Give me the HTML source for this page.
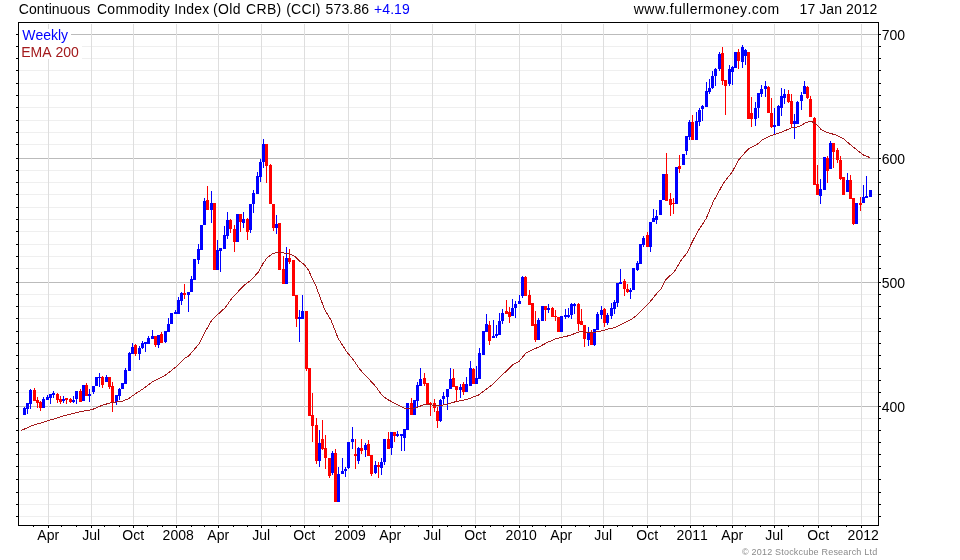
<!DOCTYPE html>
<html><head><meta charset="utf-8"><title>Continuous Commodity Index</title>
<style>
html,body{margin:0;padding:0;background:#fff;}
body{width:960px;height:560px;overflow:hidden;position:relative;font-family:"Liberation Sans",sans-serif;}
svg{position:absolute;left:0;top:0;}
text{font-family:"Liberation Sans",sans-serif;font-kerning:none;}
</style></head><body>
<svg width="960" height="560" viewBox="0 0 960 560">
<rect x="0" y="0" width="960" height="560" fill="#ffffff"/>

<g shape-rendering="crispEdges">
<rect x="19" y="516" width="859" height="1" fill="#efefef"/>
<rect x="19" y="504" width="859" height="1" fill="#efefef"/>
<rect x="19" y="492" width="859" height="1" fill="#efefef"/>
<rect x="19" y="479" width="859" height="1" fill="#efefef"/>
<rect x="19" y="466" width="859" height="1" fill="#efefef"/>
<rect x="19" y="454" width="859" height="1" fill="#efefef"/>
<rect x="19" y="442" width="859" height="1" fill="#efefef"/>
<rect x="19" y="430" width="859" height="1" fill="#efefef"/>
<rect x="19" y="418" width="859" height="1" fill="#efefef"/>
<rect x="19" y="406" width="859" height="1" fill="#bbbbbb"/>
<rect x="19" y="392" width="859" height="1" fill="#efefef"/>
<rect x="19" y="380" width="859" height="1" fill="#efefef"/>
<rect x="19" y="368" width="859" height="1" fill="#efefef"/>
<rect x="19" y="355" width="859" height="1" fill="#efefef"/>
<rect x="19" y="343" width="859" height="1" fill="#efefef"/>
<rect x="19" y="331" width="859" height="1" fill="#efefef"/>
<rect x="19" y="318" width="859" height="1" fill="#efefef"/>
<rect x="19" y="306" width="859" height="1" fill="#efefef"/>
<rect x="19" y="294" width="859" height="1" fill="#efefef"/>
<rect x="19" y="282" width="859" height="1" fill="#bbbbbb"/>
<rect x="19" y="268" width="859" height="1" fill="#efefef"/>
<rect x="19" y="256" width="859" height="1" fill="#efefef"/>
<rect x="19" y="244" width="859" height="1" fill="#efefef"/>
<rect x="19" y="231" width="859" height="1" fill="#efefef"/>
<rect x="19" y="219" width="859" height="1" fill="#efefef"/>
<rect x="19" y="207" width="859" height="1" fill="#efefef"/>
<rect x="19" y="194" width="859" height="1" fill="#efefef"/>
<rect x="19" y="182" width="859" height="1" fill="#efefef"/>
<rect x="19" y="170" width="859" height="1" fill="#efefef"/>
<rect x="19" y="158" width="859" height="1" fill="#bbbbbb"/>
<rect x="19" y="144" width="859" height="1" fill="#efefef"/>
<rect x="19" y="132" width="859" height="1" fill="#efefef"/>
<rect x="19" y="120" width="859" height="1" fill="#efefef"/>
<rect x="19" y="107" width="859" height="1" fill="#efefef"/>
<rect x="19" y="95" width="859" height="1" fill="#efefef"/>
<rect x="19" y="83" width="859" height="1" fill="#efefef"/>
<rect x="19" y="70" width="859" height="1" fill="#efefef"/>
<rect x="19" y="58" width="859" height="1" fill="#efefef"/>
<rect x="19" y="46" width="859" height="1" fill="#efefef"/>
<rect x="19" y="34" width="859" height="1" fill="#bbbbbb"/>
<rect x="48" y="24" width="1" height="500" fill="#dedede"/>
<rect x="91" y="24" width="1" height="500" fill="#dedede"/>
<rect x="133" y="24" width="1" height="500" fill="#dedede"/>
<rect x="176" y="24" width="1" height="500" fill="#dedede"/>
<rect x="218" y="24" width="1" height="500" fill="#dedede"/>
<rect x="261" y="24" width="1" height="500" fill="#dedede"/>
<rect x="304" y="24" width="1" height="500" fill="#dedede"/>
<rect x="348" y="24" width="1" height="500" fill="#dedede"/>
<rect x="390" y="24" width="1" height="500" fill="#dedede"/>
<rect x="432" y="24" width="1" height="500" fill="#dedede"/>
<rect x="475" y="24" width="1" height="500" fill="#dedede"/>
<rect x="519" y="24" width="1" height="500" fill="#dedede"/>
<rect x="561" y="24" width="1" height="500" fill="#dedede"/>
<rect x="603" y="24" width="1" height="500" fill="#dedede"/>
<rect x="647" y="24" width="1" height="500" fill="#dedede"/>
<rect x="690" y="24" width="1" height="500" fill="#dedede"/>
<rect x="732" y="24" width="1" height="500" fill="#dedede"/>
<rect x="774" y="24" width="1" height="500" fill="#dedede"/>
<rect x="818" y="24" width="1" height="500" fill="#dedede"/>
<rect x="861" y="24" width="1" height="500" fill="#dedede"/>
<rect x="19" y="29" width="52" height="15" fill="#fff"/>
<rect x="19" y="44" width="63" height="15" fill="#fff"/>
</g>
<g shape-rendering="crispEdges">
<rect x="24" y="407" width="1" height="8" fill="#0000ff"/>
<rect x="23" y="408" width="3" height="7" fill="#0000ff"/>
<rect x="27" y="403" width="1" height="11" fill="#0000ff"/>
<rect x="26" y="403" width="3" height="6" fill="#0000ff"/>
<rect x="30" y="389" width="1" height="20" fill="#0000ff"/>
<rect x="29" y="390" width="3" height="14" fill="#0000ff"/>
<rect x="34" y="388" width="1" height="13" fill="#ff0000"/>
<rect x="33" y="390" width="3" height="11" fill="#ff0000"/>
<rect x="37" y="397" width="1" height="11" fill="#ff0000"/>
<rect x="36" y="400" width="3" height="3" fill="#ff0000"/>
<rect x="40" y="401" width="1" height="10" fill="#ff0000"/>
<rect x="39" y="402" width="3" height="6" fill="#ff0000"/>
<rect x="43" y="397" width="1" height="11" fill="#0000ff"/>
<rect x="42" y="399" width="3" height="9" fill="#0000ff"/>
<rect x="47" y="395" width="1" height="5" fill="#0000ff"/>
<rect x="46" y="397" width="3" height="3" fill="#0000ff"/>
<rect x="50" y="394" width="1" height="10" fill="#0000ff"/>
<rect x="49" y="394" width="3" height="4" fill="#0000ff"/>
<rect x="53" y="391" width="1" height="7" fill="#0000ff"/>
<rect x="52" y="393" width="3" height="2" fill="#0000ff"/>
<rect x="57" y="393" width="1" height="10" fill="#ff0000"/>
<rect x="56" y="394" width="3" height="6" fill="#ff0000"/>
<rect x="60" y="396" width="1" height="8" fill="#ff0000"/>
<rect x="59" y="399" width="3" height="3" fill="#ff0000"/>
<rect x="63" y="396" width="1" height="7" fill="#0000ff"/>
<rect x="62" y="399" width="3" height="2" fill="#0000ff"/>
<rect x="66" y="398" width="1" height="6" fill="#ff0000"/>
<rect x="65" y="398" width="3" height="2" fill="#ff0000"/>
<rect x="70" y="398" width="1" height="5" fill="#ff0000"/>
<rect x="69" y="399" width="3" height="3" fill="#ff0000"/>
<rect x="73" y="396" width="1" height="7" fill="#0000ff"/>
<rect x="72" y="400" width="3" height="2" fill="#0000ff"/>
<rect x="76" y="391" width="1" height="13" fill="#0000ff"/>
<rect x="75" y="391" width="3" height="8" fill="#0000ff"/>
<rect x="80" y="389" width="1" height="13" fill="#ff0000"/>
<rect x="79" y="391" width="3" height="11" fill="#ff0000"/>
<rect x="82" y="385" width="3" height="16" fill="#0000ff"/>
<rect x="86" y="383" width="1" height="13" fill="#ff0000"/>
<rect x="85" y="385" width="3" height="11" fill="#ff0000"/>
<rect x="89" y="389" width="1" height="13" fill="#0000ff"/>
<rect x="88" y="394" width="3" height="2" fill="#0000ff"/>
<rect x="93" y="386" width="1" height="8" fill="#0000ff"/>
<rect x="92" y="386" width="3" height="6" fill="#0000ff"/>
<rect x="95" y="377" width="3" height="9" fill="#0000ff"/>
<rect x="99" y="373" width="1" height="14" fill="#0000ff"/>
<rect x="98" y="377" width="3" height="1" fill="#0000ff"/>
<rect x="102" y="376" width="1" height="12" fill="#ff0000"/>
<rect x="101" y="377" width="3" height="8" fill="#ff0000"/>
<rect x="106" y="375" width="1" height="7" fill="#0000ff"/>
<rect x="105" y="377" width="3" height="5" fill="#0000ff"/>
<rect x="109" y="377" width="1" height="12" fill="#ff0000"/>
<rect x="108" y="377" width="3" height="10" fill="#ff0000"/>
<rect x="112" y="382" width="1" height="30" fill="#ff0000"/>
<rect x="111" y="386" width="3" height="16" fill="#ff0000"/>
<rect x="116" y="395" width="1" height="10" fill="#0000ff"/>
<rect x="115" y="395" width="3" height="7" fill="#0000ff"/>
<rect x="119" y="388" width="1" height="12" fill="#0000ff"/>
<rect x="118" y="389" width="3" height="7" fill="#0000ff"/>
<rect x="121" y="383" width="3" height="6" fill="#0000ff"/>
<rect x="125" y="368" width="1" height="16" fill="#0000ff"/>
<rect x="124" y="370" width="3" height="14" fill="#0000ff"/>
<rect x="129" y="352" width="1" height="19" fill="#0000ff"/>
<rect x="128" y="353" width="3" height="18" fill="#0000ff"/>
<rect x="132" y="343" width="1" height="11" fill="#0000ff"/>
<rect x="131" y="347" width="3" height="7" fill="#0000ff"/>
<rect x="135" y="344" width="1" height="12" fill="#ff0000"/>
<rect x="134" y="345" width="3" height="9" fill="#ff0000"/>
<rect x="139" y="346" width="1" height="14" fill="#0000ff"/>
<rect x="138" y="348" width="3" height="6" fill="#0000ff"/>
<rect x="142" y="341" width="1" height="8" fill="#0000ff"/>
<rect x="141" y="343" width="3" height="5" fill="#0000ff"/>
<rect x="145" y="342" width="1" height="10" fill="#0000ff"/>
<rect x="144" y="342" width="3" height="2" fill="#0000ff"/>
<rect x="148" y="336" width="1" height="8" fill="#0000ff"/>
<rect x="147" y="338" width="3" height="6" fill="#0000ff"/>
<rect x="152" y="330" width="1" height="9" fill="#0000ff"/>
<rect x="151" y="336" width="3" height="3" fill="#0000ff"/>
<rect x="155" y="336" width="1" height="11" fill="#ff0000"/>
<rect x="154" y="336" width="3" height="9" fill="#ff0000"/>
<rect x="158" y="335" width="1" height="13" fill="#0000ff"/>
<rect x="157" y="335" width="3" height="10" fill="#0000ff"/>
<rect x="161" y="332" width="1" height="11" fill="#ff0000"/>
<rect x="160" y="334" width="3" height="9" fill="#ff0000"/>
<rect x="165" y="331" width="1" height="12" fill="#0000ff"/>
<rect x="164" y="331" width="3" height="11" fill="#0000ff"/>
<rect x="168" y="318" width="1" height="14" fill="#0000ff"/>
<rect x="167" y="324" width="3" height="8" fill="#0000ff"/>
<rect x="170" y="313" width="3" height="11" fill="#0000ff"/>
<rect x="175" y="310" width="1" height="4" fill="#0000ff"/>
<rect x="174" y="312" width="3" height="2" fill="#0000ff"/>
<rect x="178" y="297" width="1" height="17" fill="#0000ff"/>
<rect x="177" y="300" width="3" height="14" fill="#0000ff"/>
<rect x="181" y="292" width="1" height="13" fill="#0000ff"/>
<rect x="180" y="293" width="3" height="8" fill="#0000ff"/>
<rect x="184" y="284" width="1" height="15" fill="#ff0000"/>
<rect x="183" y="293" width="3" height="2" fill="#ff0000"/>
<rect x="188" y="292" width="1" height="20" fill="#0000ff"/>
<rect x="187" y="292" width="3" height="3" fill="#0000ff"/>
<rect x="191" y="276" width="1" height="16" fill="#0000ff"/>
<rect x="190" y="279" width="3" height="13" fill="#0000ff"/>
<rect x="193" y="259" width="3" height="21" fill="#0000ff"/>
<rect x="198" y="244" width="1" height="20" fill="#0000ff"/>
<rect x="197" y="249" width="3" height="11" fill="#0000ff"/>
<rect x="200" y="225" width="3" height="25" fill="#0000ff"/>
<rect x="204" y="198" width="1" height="27" fill="#0000ff"/>
<rect x="203" y="201" width="3" height="24" fill="#0000ff"/>
<rect x="207" y="186" width="1" height="24" fill="#ff0000"/>
<rect x="206" y="200" width="3" height="10" fill="#ff0000"/>
<rect x="211" y="191" width="1" height="32" fill="#0000ff"/>
<rect x="210" y="203" width="3" height="7" fill="#0000ff"/>
<rect x="213" y="203" width="3" height="67" fill="#ff0000"/>
<rect x="217" y="240" width="1" height="30" fill="#0000ff"/>
<rect x="216" y="250" width="3" height="20" fill="#0000ff"/>
<rect x="220" y="248" width="1" height="24" fill="#0000ff"/>
<rect x="219" y="248" width="3" height="3" fill="#0000ff"/>
<rect x="224" y="226" width="1" height="23" fill="#0000ff"/>
<rect x="223" y="235" width="3" height="14" fill="#0000ff"/>
<rect x="227" y="212" width="1" height="27" fill="#0000ff"/>
<rect x="226" y="220" width="3" height="16" fill="#0000ff"/>
<rect x="230" y="219" width="1" height="14" fill="#ff0000"/>
<rect x="229" y="220" width="3" height="9" fill="#ff0000"/>
<rect x="234" y="225" width="1" height="27" fill="#ff0000"/>
<rect x="233" y="229" width="3" height="13" fill="#ff0000"/>
<rect x="236" y="214" width="3" height="28" fill="#0000ff"/>
<rect x="240" y="214" width="1" height="18" fill="#ff0000"/>
<rect x="239" y="214" width="3" height="8" fill="#ff0000"/>
<rect x="243" y="212" width="1" height="16" fill="#0000ff"/>
<rect x="242" y="219" width="3" height="4" fill="#0000ff"/>
<rect x="247" y="218" width="1" height="22" fill="#ff0000"/>
<rect x="246" y="219" width="3" height="13" fill="#ff0000"/>
<rect x="250" y="204" width="1" height="29" fill="#0000ff"/>
<rect x="249" y="204" width="3" height="26" fill="#0000ff"/>
<rect x="253" y="190" width="1" height="23" fill="#0000ff"/>
<rect x="252" y="193" width="3" height="11" fill="#0000ff"/>
<rect x="257" y="172" width="1" height="22" fill="#0000ff"/>
<rect x="256" y="176" width="3" height="18" fill="#0000ff"/>
<rect x="260" y="159" width="1" height="23" fill="#0000ff"/>
<rect x="259" y="162" width="3" height="15" fill="#0000ff"/>
<rect x="263" y="139" width="1" height="29" fill="#0000ff"/>
<rect x="262" y="144" width="3" height="18" fill="#0000ff"/>
<rect x="266" y="144" width="1" height="39" fill="#ff0000"/>
<rect x="265" y="144" width="3" height="22" fill="#ff0000"/>
<rect x="270" y="164" width="1" height="40" fill="#ff0000"/>
<rect x="269" y="165" width="3" height="39" fill="#ff0000"/>
<rect x="273" y="204" width="1" height="27" fill="#ff0000"/>
<rect x="272" y="204" width="3" height="24" fill="#ff0000"/>
<rect x="276" y="215" width="1" height="19" fill="#0000ff"/>
<rect x="275" y="224" width="3" height="4" fill="#0000ff"/>
<rect x="278" y="223" width="3" height="47" fill="#ff0000"/>
<rect x="283" y="256" width="1" height="28" fill="#ff0000"/>
<rect x="282" y="269" width="3" height="15" fill="#ff0000"/>
<rect x="286" y="247" width="1" height="37" fill="#0000ff"/>
<rect x="285" y="258" width="3" height="26" fill="#0000ff"/>
<rect x="289" y="249" width="1" height="15" fill="#ff0000"/>
<rect x="288" y="258" width="3" height="4" fill="#ff0000"/>
<rect x="292" y="260" width="3" height="36" fill="#ff0000"/>
<rect x="296" y="295" width="1" height="32" fill="#ff0000"/>
<rect x="295" y="295" width="3" height="24" fill="#ff0000"/>
<rect x="299" y="310" width="1" height="32" fill="#0000ff"/>
<rect x="298" y="317" width="3" height="2" fill="#0000ff"/>
<rect x="302" y="295" width="1" height="24" fill="#0000ff"/>
<rect x="301" y="311" width="3" height="8" fill="#0000ff"/>
<rect x="306" y="311" width="1" height="60" fill="#ff0000"/>
<rect x="305" y="311" width="3" height="58" fill="#ff0000"/>
<rect x="308" y="368" width="3" height="48" fill="#ff0000"/>
<rect x="312" y="393" width="1" height="49" fill="#ff0000"/>
<rect x="311" y="415" width="3" height="11" fill="#ff0000"/>
<rect x="316" y="418" width="1" height="46" fill="#ff0000"/>
<rect x="315" y="425" width="3" height="36" fill="#ff0000"/>
<rect x="319" y="430" width="1" height="37" fill="#0000ff"/>
<rect x="318" y="443" width="3" height="18" fill="#0000ff"/>
<rect x="322" y="420" width="1" height="30" fill="#ff0000"/>
<rect x="321" y="439" width="3" height="10" fill="#ff0000"/>
<rect x="325" y="435" width="1" height="34" fill="#ff0000"/>
<rect x="324" y="448" width="3" height="10" fill="#ff0000"/>
<rect x="329" y="458" width="1" height="20" fill="#ff0000"/>
<rect x="328" y="458" width="3" height="18" fill="#ff0000"/>
<rect x="332" y="451" width="1" height="24" fill="#0000ff"/>
<rect x="331" y="453" width="3" height="20" fill="#0000ff"/>
<rect x="335" y="449" width="1" height="53" fill="#ff0000"/>
<rect x="334" y="453" width="3" height="49" fill="#ff0000"/>
<rect x="338" y="467" width="1" height="35" fill="#0000ff"/>
<rect x="337" y="474" width="3" height="28" fill="#0000ff"/>
<rect x="342" y="458" width="1" height="16" fill="#0000ff"/>
<rect x="341" y="471" width="3" height="3" fill="#0000ff"/>
<rect x="345" y="467" width="1" height="10" fill="#0000ff"/>
<rect x="344" y="469" width="3" height="2" fill="#0000ff"/>
<rect x="348" y="442" width="1" height="27" fill="#0000ff"/>
<rect x="347" y="442" width="3" height="26" fill="#0000ff"/>
<rect x="352" y="427" width="1" height="22" fill="#0000ff"/>
<rect x="351" y="439" width="3" height="3" fill="#0000ff"/>
<rect x="355" y="439" width="1" height="30" fill="#ff0000"/>
<rect x="354" y="454" width="3" height="2" fill="#ff0000"/>
<rect x="358" y="447" width="1" height="17" fill="#0000ff"/>
<rect x="357" y="448" width="3" height="13" fill="#0000ff"/>
<rect x="361" y="439" width="1" height="15" fill="#ff0000"/>
<rect x="360" y="448" width="3" height="3" fill="#ff0000"/>
<rect x="365" y="443" width="1" height="14" fill="#0000ff"/>
<rect x="364" y="445" width="3" height="5" fill="#0000ff"/>
<rect x="368" y="440" width="1" height="16" fill="#ff0000"/>
<rect x="367" y="444" width="3" height="12" fill="#ff0000"/>
<rect x="371" y="455" width="1" height="21" fill="#ff0000"/>
<rect x="370" y="455" width="3" height="19" fill="#ff0000"/>
<rect x="375" y="461" width="1" height="13" fill="#0000ff"/>
<rect x="374" y="465" width="3" height="8" fill="#0000ff"/>
<rect x="378" y="462" width="1" height="16" fill="#ff0000"/>
<rect x="377" y="465" width="3" height="2" fill="#ff0000"/>
<rect x="381" y="458" width="1" height="17" fill="#0000ff"/>
<rect x="380" y="462" width="3" height="6" fill="#0000ff"/>
<rect x="384" y="439" width="1" height="26" fill="#0000ff"/>
<rect x="383" y="439" width="3" height="23" fill="#0000ff"/>
<rect x="388" y="432" width="1" height="17" fill="#ff0000"/>
<rect x="387" y="439" width="3" height="10" fill="#ff0000"/>
<rect x="391" y="432" width="1" height="23" fill="#0000ff"/>
<rect x="390" y="432" width="3" height="16" fill="#0000ff"/>
<rect x="394" y="432" width="1" height="10" fill="#ff0000"/>
<rect x="393" y="432" width="3" height="4" fill="#ff0000"/>
<rect x="397" y="431" width="1" height="6" fill="#0000ff"/>
<rect x="396" y="434" width="3" height="2" fill="#0000ff"/>
<rect x="401" y="434" width="1" height="17" fill="#0000ff"/>
<rect x="400" y="434" width="3" height="2" fill="#0000ff"/>
<rect x="404" y="429" width="1" height="22" fill="#0000ff"/>
<rect x="403" y="429" width="3" height="9" fill="#0000ff"/>
<rect x="406" y="403" width="3" height="27" fill="#0000ff"/>
<rect x="411" y="398" width="1" height="17" fill="#ff0000"/>
<rect x="410" y="403" width="3" height="12" fill="#ff0000"/>
<rect x="413" y="400" width="3" height="15" fill="#0000ff"/>
<rect x="417" y="382" width="1" height="25" fill="#0000ff"/>
<rect x="416" y="385" width="3" height="16" fill="#0000ff"/>
<rect x="420" y="368" width="1" height="18" fill="#0000ff"/>
<rect x="419" y="379" width="3" height="7" fill="#0000ff"/>
<rect x="424" y="373" width="1" height="13" fill="#ff0000"/>
<rect x="423" y="378" width="3" height="6" fill="#ff0000"/>
<rect x="426" y="383" width="3" height="21" fill="#ff0000"/>
<rect x="430" y="402" width="1" height="14" fill="#ff0000"/>
<rect x="429" y="403" width="3" height="2" fill="#ff0000"/>
<rect x="434" y="399" width="1" height="13" fill="#ff0000"/>
<rect x="433" y="403" width="3" height="5" fill="#ff0000"/>
<rect x="437" y="407" width="1" height="21" fill="#ff0000"/>
<rect x="436" y="411" width="3" height="10" fill="#ff0000"/>
<rect x="440" y="399" width="1" height="23" fill="#0000ff"/>
<rect x="439" y="400" width="3" height="21" fill="#0000ff"/>
<rect x="443" y="392" width="1" height="12" fill="#0000ff"/>
<rect x="442" y="396" width="3" height="3" fill="#0000ff"/>
<rect x="447" y="389" width="1" height="21" fill="#0000ff"/>
<rect x="446" y="389" width="3" height="8" fill="#0000ff"/>
<rect x="450" y="368" width="1" height="21" fill="#0000ff"/>
<rect x="449" y="379" width="3" height="10" fill="#0000ff"/>
<rect x="453" y="369" width="1" height="18" fill="#ff0000"/>
<rect x="452" y="378" width="3" height="9" fill="#ff0000"/>
<rect x="456" y="386" width="1" height="15" fill="#ff0000"/>
<rect x="455" y="386" width="3" height="4" fill="#ff0000"/>
<rect x="460" y="384" width="1" height="14" fill="#0000ff"/>
<rect x="459" y="387" width="3" height="3" fill="#0000ff"/>
<rect x="463" y="382" width="1" height="13" fill="#ff0000"/>
<rect x="462" y="384" width="3" height="8" fill="#ff0000"/>
<rect x="466" y="377" width="1" height="15" fill="#0000ff"/>
<rect x="465" y="384" width="3" height="8" fill="#0000ff"/>
<rect x="470" y="361" width="1" height="25" fill="#0000ff"/>
<rect x="469" y="368" width="3" height="18" fill="#0000ff"/>
<rect x="473" y="368" width="1" height="16" fill="#ff0000"/>
<rect x="472" y="369" width="3" height="15" fill="#ff0000"/>
<rect x="476" y="366" width="1" height="18" fill="#0000ff"/>
<rect x="475" y="378" width="3" height="6" fill="#0000ff"/>
<rect x="479" y="348" width="1" height="31" fill="#0000ff"/>
<rect x="478" y="353" width="3" height="26" fill="#0000ff"/>
<rect x="482" y="331" width="3" height="24" fill="#0000ff"/>
<rect x="486" y="314" width="1" height="18" fill="#0000ff"/>
<rect x="485" y="324" width="3" height="8" fill="#0000ff"/>
<rect x="489" y="321" width="1" height="24" fill="#ff0000"/>
<rect x="488" y="325" width="3" height="16" fill="#ff0000"/>
<rect x="493" y="320" width="1" height="18" fill="#0000ff"/>
<rect x="492" y="336" width="3" height="2" fill="#0000ff"/>
<rect x="496" y="325" width="1" height="13" fill="#0000ff"/>
<rect x="495" y="334" width="3" height="2" fill="#0000ff"/>
<rect x="499" y="313" width="1" height="22" fill="#0000ff"/>
<rect x="498" y="321" width="3" height="14" fill="#0000ff"/>
<rect x="502" y="309" width="1" height="15" fill="#0000ff"/>
<rect x="501" y="313" width="3" height="8" fill="#0000ff"/>
<rect x="506" y="300" width="1" height="14" fill="#ff0000"/>
<rect x="505" y="311" width="3" height="3" fill="#ff0000"/>
<rect x="509" y="307" width="1" height="16" fill="#ff0000"/>
<rect x="508" y="312" width="3" height="5" fill="#ff0000"/>
<rect x="512" y="299" width="1" height="17" fill="#0000ff"/>
<rect x="511" y="308" width="3" height="8" fill="#0000ff"/>
<rect x="515" y="301" width="1" height="17" fill="#0000ff"/>
<rect x="514" y="304" width="3" height="4" fill="#0000ff"/>
<rect x="519" y="295" width="1" height="9" fill="#0000ff"/>
<rect x="518" y="301" width="3" height="3" fill="#0000ff"/>
<rect x="522" y="276" width="1" height="22" fill="#0000ff"/>
<rect x="521" y="277" width="3" height="19" fill="#0000ff"/>
<rect x="525" y="276" width="1" height="20" fill="#ff0000"/>
<rect x="524" y="277" width="3" height="19" fill="#ff0000"/>
<rect x="529" y="290" width="1" height="15" fill="#ff0000"/>
<rect x="528" y="295" width="3" height="10" fill="#ff0000"/>
<rect x="531" y="303" width="3" height="23" fill="#ff0000"/>
<rect x="535" y="311" width="1" height="31" fill="#ff0000"/>
<rect x="534" y="324" width="3" height="16" fill="#ff0000"/>
<rect x="538" y="318" width="1" height="22" fill="#0000ff"/>
<rect x="537" y="320" width="3" height="20" fill="#0000ff"/>
<rect x="541" y="306" width="3" height="15" fill="#0000ff"/>
<rect x="545" y="306" width="1" height="15" fill="#ff0000"/>
<rect x="544" y="306" width="3" height="4" fill="#ff0000"/>
<rect x="548" y="304" width="1" height="9" fill="#0000ff"/>
<rect x="547" y="308" width="3" height="2" fill="#0000ff"/>
<rect x="552" y="307" width="1" height="10" fill="#ff0000"/>
<rect x="551" y="308" width="3" height="9" fill="#ff0000"/>
<rect x="555" y="310" width="1" height="11" fill="#ff0000"/>
<rect x="554" y="316" width="3" height="1" fill="#ff0000"/>
<rect x="557" y="317" width="3" height="15" fill="#ff0000"/>
<rect x="560" y="316" width="3" height="16" fill="#0000ff"/>
<rect x="565" y="309" width="1" height="10" fill="#0000ff"/>
<rect x="564" y="315" width="3" height="2" fill="#0000ff"/>
<rect x="568" y="308" width="1" height="10" fill="#0000ff"/>
<rect x="567" y="315" width="3" height="2" fill="#0000ff"/>
<rect x="571" y="303" width="1" height="16" fill="#0000ff"/>
<rect x="570" y="304" width="3" height="11" fill="#0000ff"/>
<rect x="574" y="303" width="1" height="11" fill="#0000ff"/>
<rect x="573" y="304" width="3" height="2" fill="#0000ff"/>
<rect x="578" y="303" width="1" height="28" fill="#ff0000"/>
<rect x="577" y="304" width="3" height="20" fill="#ff0000"/>
<rect x="581" y="309" width="1" height="16" fill="#ff0000"/>
<rect x="580" y="321" width="3" height="4" fill="#ff0000"/>
<rect x="584" y="325" width="1" height="22" fill="#ff0000"/>
<rect x="583" y="325" width="3" height="14" fill="#ff0000"/>
<rect x="588" y="327" width="1" height="19" fill="#0000ff"/>
<rect x="587" y="332" width="3" height="8" fill="#0000ff"/>
<rect x="591" y="330" width="1" height="15" fill="#ff0000"/>
<rect x="590" y="332" width="3" height="13" fill="#ff0000"/>
<rect x="594" y="329" width="1" height="17" fill="#0000ff"/>
<rect x="593" y="329" width="3" height="16" fill="#0000ff"/>
<rect x="597" y="312" width="1" height="18" fill="#0000ff"/>
<rect x="596" y="314" width="3" height="16" fill="#0000ff"/>
<rect x="601" y="306" width="1" height="13" fill="#0000ff"/>
<rect x="600" y="310" width="3" height="5" fill="#0000ff"/>
<rect x="604" y="308" width="1" height="19" fill="#ff0000"/>
<rect x="603" y="309" width="3" height="14" fill="#ff0000"/>
<rect x="607" y="313" width="1" height="12" fill="#0000ff"/>
<rect x="606" y="315" width="3" height="8" fill="#0000ff"/>
<rect x="611" y="303" width="1" height="16" fill="#0000ff"/>
<rect x="610" y="308" width="3" height="8" fill="#0000ff"/>
<rect x="614" y="300" width="1" height="14" fill="#0000ff"/>
<rect x="613" y="302" width="3" height="7" fill="#0000ff"/>
<rect x="617" y="283" width="1" height="24" fill="#0000ff"/>
<rect x="616" y="283" width="3" height="20" fill="#0000ff"/>
<rect x="620" y="269" width="1" height="15" fill="#0000ff"/>
<rect x="619" y="282" width="3" height="2" fill="#0000ff"/>
<rect x="624" y="279" width="1" height="17" fill="#ff0000"/>
<rect x="623" y="281" width="3" height="8" fill="#ff0000"/>
<rect x="627" y="284" width="1" height="9" fill="#ff0000"/>
<rect x="626" y="289" width="3" height="3" fill="#ff0000"/>
<rect x="630" y="288" width="1" height="11" fill="#0000ff"/>
<rect x="629" y="290" width="3" height="2" fill="#0000ff"/>
<rect x="632" y="268" width="3" height="22" fill="#0000ff"/>
<rect x="637" y="261" width="1" height="10" fill="#0000ff"/>
<rect x="636" y="263" width="3" height="7" fill="#0000ff"/>
<rect x="639" y="244" width="3" height="20" fill="#0000ff"/>
<rect x="643" y="236" width="1" height="11" fill="#0000ff"/>
<rect x="642" y="238" width="3" height="7" fill="#0000ff"/>
<rect x="647" y="232" width="1" height="15" fill="#ff0000"/>
<rect x="646" y="235" width="3" height="12" fill="#ff0000"/>
<rect x="650" y="222" width="1" height="30" fill="#0000ff"/>
<rect x="649" y="222" width="3" height="25" fill="#0000ff"/>
<rect x="653" y="209" width="1" height="13" fill="#0000ff"/>
<rect x="652" y="218" width="3" height="4" fill="#0000ff"/>
<rect x="656" y="210" width="1" height="14" fill="#0000ff"/>
<rect x="655" y="216" width="3" height="4" fill="#0000ff"/>
<rect x="659" y="200" width="3" height="15" fill="#0000ff"/>
<rect x="662" y="174" width="3" height="26" fill="#0000ff"/>
<rect x="666" y="153" width="1" height="48" fill="#ff0000"/>
<rect x="665" y="174" width="3" height="27" fill="#ff0000"/>
<rect x="670" y="193" width="1" height="23" fill="#ff0000"/>
<rect x="669" y="199" width="3" height="6" fill="#ff0000"/>
<rect x="673" y="198" width="1" height="16" fill="#ff0000"/>
<rect x="672" y="203" width="3" height="1" fill="#ff0000"/>
<rect x="675" y="167" width="3" height="37" fill="#0000ff"/>
<rect x="679" y="155" width="1" height="18" fill="#ff0000"/>
<rect x="678" y="166" width="3" height="3" fill="#ff0000"/>
<rect x="682" y="154" width="3" height="11" fill="#0000ff"/>
<rect x="686" y="136" width="1" height="19" fill="#0000ff"/>
<rect x="685" y="136" width="3" height="15" fill="#0000ff"/>
<rect x="689" y="120" width="1" height="20" fill="#0000ff"/>
<rect x="688" y="122" width="3" height="15" fill="#0000ff"/>
<rect x="692" y="115" width="1" height="25" fill="#ff0000"/>
<rect x="691" y="122" width="3" height="18" fill="#ff0000"/>
<rect x="696" y="112" width="1" height="28" fill="#0000ff"/>
<rect x="695" y="121" width="3" height="19" fill="#0000ff"/>
<rect x="699" y="108" width="1" height="18" fill="#0000ff"/>
<rect x="698" y="110" width="3" height="12" fill="#0000ff"/>
<rect x="702" y="105" width="1" height="16" fill="#0000ff"/>
<rect x="701" y="106" width="3" height="3" fill="#0000ff"/>
<rect x="706" y="82" width="1" height="25" fill="#0000ff"/>
<rect x="705" y="91" width="3" height="16" fill="#0000ff"/>
<rect x="709" y="79" width="1" height="15" fill="#0000ff"/>
<rect x="708" y="88" width="3" height="4" fill="#0000ff"/>
<rect x="712" y="71" width="1" height="18" fill="#0000ff"/>
<rect x="711" y="76" width="3" height="12" fill="#0000ff"/>
<rect x="715" y="68" width="1" height="18" fill="#0000ff"/>
<rect x="714" y="69" width="3" height="7" fill="#0000ff"/>
<rect x="719" y="52" width="1" height="19" fill="#0000ff"/>
<rect x="718" y="54" width="3" height="15" fill="#0000ff"/>
<rect x="722" y="47" width="1" height="38" fill="#ff0000"/>
<rect x="721" y="53" width="3" height="28" fill="#ff0000"/>
<rect x="725" y="80" width="1" height="35" fill="#ff0000"/>
<rect x="724" y="80" width="3" height="6" fill="#ff0000"/>
<rect x="729" y="65" width="1" height="21" fill="#0000ff"/>
<rect x="728" y="69" width="3" height="15" fill="#0000ff"/>
<rect x="732" y="66" width="1" height="19" fill="#0000ff"/>
<rect x="731" y="67" width="3" height="5" fill="#0000ff"/>
<rect x="734" y="52" width="3" height="16" fill="#0000ff"/>
<rect x="738" y="49" width="1" height="20" fill="#ff0000"/>
<rect x="737" y="52" width="3" height="9" fill="#ff0000"/>
<rect x="742" y="45" width="1" height="23" fill="#0000ff"/>
<rect x="741" y="47" width="3" height="15" fill="#0000ff"/>
<rect x="745" y="49" width="1" height="16" fill="#0000ff"/>
<rect x="744" y="50" width="3" height="6" fill="#0000ff"/>
<rect x="747" y="52" width="3" height="67" fill="#ff0000"/>
<rect x="751" y="97" width="1" height="30" fill="#ff0000"/>
<rect x="750" y="113" width="3" height="6" fill="#ff0000"/>
<rect x="755" y="102" width="1" height="24" fill="#0000ff"/>
<rect x="754" y="108" width="3" height="11" fill="#0000ff"/>
<rect x="758" y="93" width="1" height="25" fill="#0000ff"/>
<rect x="757" y="93" width="3" height="15" fill="#0000ff"/>
<rect x="761" y="85" width="1" height="12" fill="#0000ff"/>
<rect x="760" y="89" width="3" height="5" fill="#0000ff"/>
<rect x="765" y="81" width="1" height="16" fill="#0000ff"/>
<rect x="764" y="86" width="3" height="3" fill="#0000ff"/>
<rect x="768" y="86" width="1" height="27" fill="#ff0000"/>
<rect x="767" y="87" width="3" height="26" fill="#ff0000"/>
<rect x="771" y="98" width="1" height="30" fill="#ff0000"/>
<rect x="770" y="113" width="3" height="14" fill="#ff0000"/>
<rect x="774" y="108" width="1" height="26" fill="#0000ff"/>
<rect x="773" y="125" width="3" height="2" fill="#0000ff"/>
<rect x="778" y="105" width="1" height="21" fill="#0000ff"/>
<rect x="777" y="106" width="3" height="20" fill="#0000ff"/>
<rect x="781" y="88" width="1" height="28" fill="#0000ff"/>
<rect x="780" y="96" width="3" height="12" fill="#0000ff"/>
<rect x="784" y="89" width="1" height="15" fill="#0000ff"/>
<rect x="783" y="94" width="3" height="4" fill="#0000ff"/>
<rect x="788" y="90" width="1" height="13" fill="#ff0000"/>
<rect x="787" y="94" width="3" height="8" fill="#ff0000"/>
<rect x="791" y="94" width="1" height="33" fill="#ff0000"/>
<rect x="790" y="101" width="3" height="23" fill="#ff0000"/>
<rect x="794" y="114" width="1" height="25" fill="#0000ff"/>
<rect x="793" y="121" width="3" height="3" fill="#0000ff"/>
<rect x="797" y="101" width="1" height="23" fill="#0000ff"/>
<rect x="796" y="102" width="3" height="22" fill="#0000ff"/>
<rect x="801" y="92" width="1" height="18" fill="#0000ff"/>
<rect x="800" y="95" width="3" height="6" fill="#0000ff"/>
<rect x="804" y="81" width="1" height="13" fill="#0000ff"/>
<rect x="803" y="86" width="3" height="8" fill="#0000ff"/>
<rect x="807" y="86" width="1" height="13" fill="#ff0000"/>
<rect x="806" y="87" width="3" height="11" fill="#ff0000"/>
<rect x="810" y="96" width="1" height="21" fill="#ff0000"/>
<rect x="809" y="99" width="3" height="18" fill="#ff0000"/>
<rect x="814" y="117" width="1" height="68" fill="#ff0000"/>
<rect x="813" y="118" width="3" height="67" fill="#ff0000"/>
<rect x="817" y="165" width="1" height="30" fill="#ff0000"/>
<rect x="816" y="184" width="3" height="11" fill="#ff0000"/>
<rect x="820" y="179" width="1" height="25" fill="#0000ff"/>
<rect x="819" y="189" width="3" height="7" fill="#0000ff"/>
<rect x="823" y="157" width="3" height="33" fill="#0000ff"/>
<rect x="827" y="156" width="1" height="27" fill="#ff0000"/>
<rect x="826" y="158" width="3" height="13" fill="#ff0000"/>
<rect x="830" y="141" width="1" height="28" fill="#0000ff"/>
<rect x="829" y="143" width="3" height="26" fill="#0000ff"/>
<rect x="833" y="143" width="1" height="25" fill="#ff0000"/>
<rect x="832" y="143" width="3" height="9" fill="#ff0000"/>
<rect x="837" y="148" width="1" height="15" fill="#ff0000"/>
<rect x="836" y="150" width="3" height="10" fill="#ff0000"/>
<rect x="840" y="156" width="1" height="24" fill="#ff0000"/>
<rect x="839" y="160" width="3" height="19" fill="#ff0000"/>
<rect x="842" y="177" width="3" height="18" fill="#ff0000"/>
<rect x="847" y="173" width="1" height="19" fill="#0000ff"/>
<rect x="846" y="180" width="3" height="12" fill="#0000ff"/>
<rect x="850" y="175" width="1" height="24" fill="#ff0000"/>
<rect x="849" y="180" width="3" height="19" fill="#ff0000"/>
<rect x="853" y="198" width="1" height="27" fill="#ff0000"/>
<rect x="852" y="198" width="3" height="26" fill="#ff0000"/>
<rect x="855" y="203" width="3" height="21" fill="#0000ff"/>
<rect x="860" y="197" width="1" height="14" fill="#ff0000"/>
<rect x="859" y="203" width="3" height="2" fill="#ff0000"/>
<rect x="863" y="185" width="1" height="18" fill="#0000ff"/>
<rect x="862" y="197" width="3" height="6" fill="#0000ff"/>
<rect x="866" y="176" width="1" height="22" fill="#0000ff"/>
<rect x="865" y="196" width="3" height="2" fill="#0000ff"/>
<rect x="869" y="190" width="3" height="7" fill="#0000ff"/>
</g>
<polyline points="21.0,430.6 32.2,425.6 48.5,420.6 66.0,415.2 81.0,411.6 91.6,409.8 103.5,404.8 112.2,402.5 122.2,401.2 128.5,398.8 135.8,393.5 142.2,389.4 152.2,381.9 164.8,375.6 176.6,366.5 184.8,358.1 188.5,356.2 199.1,343.8 204.8,332.5 211.6,320.6 218.5,313.8 225.4,307.5 231.0,299.4 243.5,285.8 251.0,280.2 258.5,271.9 262.9,263.8 267.2,257.5 273.5,253.2 279.8,252.4 288.5,253.8 294.8,256.2 299.8,261.2 304.1,264.4 308.5,270.0 313.5,281.2 316.0,286.2 324.8,310.0 331.0,320.0 338.5,339.4 339.8,341.0 347.2,352.5 353.5,360.0 359.8,369.4 369.8,380.0 376.0,386.9 382.2,395.6 388.5,400.0 396.0,404.0 404.8,408.5 414.8,408.1 424.8,404.4 437.2,405.4 446.0,404.8 456.0,401.5 467.2,399.4 478.5,395.0 492.2,384.8 504.8,372.5 513.5,364.2 519.1,361.5 522.2,357.5 526.0,353.1 532.2,349.8 539.1,346.9 547.2,342.5 554.8,339.2 558.0,338.2 564.8,336.6 568.5,335.8 575.0,333.5 581.0,331.4 587.2,332.5 596.0,332.0 603.5,330.4 609.8,328.5 614.8,327.8 623.5,323.1 632.2,318.8 637.2,315.0 646.0,306.2 651.0,300.6 656.0,294.4 661.0,288.8 665.4,280.0 674.1,271.9 681.0,260.6 687.2,252.5 693.5,239.4 699.1,229.4 706.0,218.8 713.5,201.2 723.5,183.1 732.2,171.9 738.5,160.2 746.0,151.4 748.5,148.8 753.5,146.2 757.2,144.4 762.2,140.0 771.0,135.6 781.0,132.5 792.2,127.5 798.5,126.9 806.0,122.5 811.0,121.2 816.0,123.8 821.0,129.4 827.2,132.5 836.0,135.0 843.5,138.8 852.2,146.2 858.5,151.2 863.5,155.0 869.8,157.5" fill="none" stroke="#a31a1c" stroke-width="1" shape-rendering="crispEdges"/>
<g shape-rendering="crispEdges" fill="#000">
<rect x="18" y="22" width="861" height="1"/>
<rect x="18" y="525" width="861" height="1"/>
<rect x="18" y="22" width="1" height="504"/>
<rect x="878" y="22" width="1" height="504"/>
<rect x="16" y="516" width="2" height="1"/>
<rect x="879" y="516" width="2" height="1"/>
<rect x="16" y="504" width="2" height="1"/>
<rect x="879" y="504" width="2" height="1"/>
<rect x="16" y="492" width="2" height="1"/>
<rect x="879" y="492" width="2" height="1"/>
<rect x="16" y="479" width="2" height="1"/>
<rect x="879" y="479" width="2" height="1"/>
<rect x="16" y="466" width="2" height="1"/>
<rect x="879" y="466" width="2" height="1"/>
<rect x="16" y="454" width="2" height="1"/>
<rect x="879" y="454" width="2" height="1"/>
<rect x="16" y="442" width="2" height="1"/>
<rect x="879" y="442" width="2" height="1"/>
<rect x="16" y="430" width="2" height="1"/>
<rect x="879" y="430" width="2" height="1"/>
<rect x="16" y="418" width="2" height="1"/>
<rect x="879" y="418" width="2" height="1"/>
<rect x="16" y="406" width="2" height="1"/>
<rect x="879" y="406" width="2" height="1"/>
<rect x="16" y="392" width="2" height="1"/>
<rect x="879" y="392" width="2" height="1"/>
<rect x="16" y="380" width="2" height="1"/>
<rect x="879" y="380" width="2" height="1"/>
<rect x="16" y="368" width="2" height="1"/>
<rect x="879" y="368" width="2" height="1"/>
<rect x="16" y="355" width="2" height="1"/>
<rect x="879" y="355" width="2" height="1"/>
<rect x="16" y="343" width="2" height="1"/>
<rect x="879" y="343" width="2" height="1"/>
<rect x="16" y="331" width="2" height="1"/>
<rect x="879" y="331" width="2" height="1"/>
<rect x="16" y="318" width="2" height="1"/>
<rect x="879" y="318" width="2" height="1"/>
<rect x="16" y="306" width="2" height="1"/>
<rect x="879" y="306" width="2" height="1"/>
<rect x="16" y="294" width="2" height="1"/>
<rect x="879" y="294" width="2" height="1"/>
<rect x="16" y="282" width="2" height="1"/>
<rect x="879" y="282" width="2" height="1"/>
<rect x="16" y="268" width="2" height="1"/>
<rect x="879" y="268" width="2" height="1"/>
<rect x="16" y="256" width="2" height="1"/>
<rect x="879" y="256" width="2" height="1"/>
<rect x="16" y="244" width="2" height="1"/>
<rect x="879" y="244" width="2" height="1"/>
<rect x="16" y="231" width="2" height="1"/>
<rect x="879" y="231" width="2" height="1"/>
<rect x="16" y="219" width="2" height="1"/>
<rect x="879" y="219" width="2" height="1"/>
<rect x="16" y="207" width="2" height="1"/>
<rect x="879" y="207" width="2" height="1"/>
<rect x="16" y="194" width="2" height="1"/>
<rect x="879" y="194" width="2" height="1"/>
<rect x="16" y="182" width="2" height="1"/>
<rect x="879" y="182" width="2" height="1"/>
<rect x="16" y="170" width="2" height="1"/>
<rect x="879" y="170" width="2" height="1"/>
<rect x="16" y="158" width="2" height="1"/>
<rect x="879" y="158" width="2" height="1"/>
<rect x="16" y="144" width="2" height="1"/>
<rect x="879" y="144" width="2" height="1"/>
<rect x="16" y="132" width="2" height="1"/>
<rect x="879" y="132" width="2" height="1"/>
<rect x="16" y="120" width="2" height="1"/>
<rect x="879" y="120" width="2" height="1"/>
<rect x="16" y="107" width="2" height="1"/>
<rect x="879" y="107" width="2" height="1"/>
<rect x="16" y="95" width="2" height="1"/>
<rect x="879" y="95" width="2" height="1"/>
<rect x="16" y="83" width="2" height="1"/>
<rect x="879" y="83" width="2" height="1"/>
<rect x="16" y="70" width="2" height="1"/>
<rect x="879" y="70" width="2" height="1"/>
<rect x="16" y="58" width="2" height="1"/>
<rect x="879" y="58" width="2" height="1"/>
<rect x="16" y="46" width="2" height="1"/>
<rect x="879" y="46" width="2" height="1"/>
<rect x="16" y="34" width="2" height="1"/>
<rect x="879" y="34" width="2" height="1"/>
<rect x="33" y="526" width="1" height="1"/>
<rect x="61" y="526" width="1" height="1"/>
<rect x="76" y="526" width="1" height="1"/>
<rect x="104" y="526" width="1" height="1"/>
<rect x="119" y="526" width="1" height="1"/>
<rect x="147" y="526" width="1" height="1"/>
<rect x="162" y="526" width="1" height="1"/>
<rect x="191" y="526" width="1" height="1"/>
<rect x="204" y="526" width="1" height="1"/>
<rect x="233" y="526" width="1" height="1"/>
<rect x="247" y="526" width="1" height="1"/>
<rect x="276" y="526" width="1" height="1"/>
<rect x="290" y="526" width="1" height="1"/>
<rect x="319" y="526" width="1" height="1"/>
<rect x="332" y="526" width="1" height="1"/>
<rect x="362" y="526" width="1" height="1"/>
<rect x="375" y="526" width="1" height="1"/>
<rect x="404" y="526" width="1" height="1"/>
<rect x="418" y="526" width="1" height="1"/>
<rect x="447" y="526" width="1" height="1"/>
<rect x="461" y="526" width="1" height="1"/>
<rect x="490" y="526" width="1" height="1"/>
<rect x="503" y="526" width="1" height="1"/>
<rect x="532" y="526" width="1" height="1"/>
<rect x="545" y="526" width="1" height="1"/>
<rect x="575" y="526" width="1" height="1"/>
<rect x="589" y="526" width="1" height="1"/>
<rect x="617" y="526" width="1" height="1"/>
<rect x="632" y="526" width="1" height="1"/>
<rect x="660" y="526" width="1" height="1"/>
<rect x="674" y="526" width="1" height="1"/>
<rect x="703" y="526" width="1" height="1"/>
<rect x="716" y="526" width="1" height="1"/>
<rect x="745" y="526" width="1" height="1"/>
<rect x="760" y="526" width="1" height="1"/>
<rect x="788" y="526" width="1" height="1"/>
<rect x="803" y="526" width="1" height="1"/>
<rect x="831" y="526" width="1" height="1"/>
<rect x="846" y="526" width="1" height="1"/>
<rect x="48" y="526" width="1" height="2"/>
<rect x="91" y="526" width="1" height="2"/>
<rect x="133" y="526" width="1" height="2"/>
<rect x="176" y="526" width="1" height="2"/>
<rect x="218" y="526" width="1" height="2"/>
<rect x="261" y="526" width="1" height="2"/>
<rect x="304" y="526" width="1" height="2"/>
<rect x="348" y="526" width="1" height="2"/>
<rect x="390" y="526" width="1" height="2"/>
<rect x="432" y="526" width="1" height="2"/>
<rect x="475" y="526" width="1" height="2"/>
<rect x="519" y="526" width="1" height="2"/>
<rect x="561" y="526" width="1" height="2"/>
<rect x="603" y="526" width="1" height="2"/>
<rect x="647" y="526" width="1" height="2"/>
<rect x="690" y="526" width="1" height="2"/>
<rect x="732" y="526" width="1" height="2"/>
<rect x="774" y="526" width="1" height="2"/>
<rect x="818" y="526" width="1" height="2"/>
<rect x="861" y="526" width="1" height="2"/>
</g>
</svg>
<svg width="960" height="560" viewBox="0 0 960 560" style="will-change:transform">
<text x="18.75" y="14" font-size="14" fill="#000" textLength="71.58" lengthAdjust="spacing">Continuous</text>
<text x="97.0" y="14" font-size="14" fill="#000" textLength="72.79" lengthAdjust="spacing">Commodity</text>
<text x="174.28" y="14" font-size="14" fill="#000" textLength="34.87" lengthAdjust="spacing">Index</text>
<text x="212.95" y="14" font-size="14" fill="#000" textLength="27.72" lengthAdjust="spacing">(Old</text>
<text x="246.0" y="14" font-size="14" fill="#000" textLength="35.24" lengthAdjust="spacing">CRB)</text>
<text x="286.28" y="14" font-size="14" fill="#000" textLength="34.17" lengthAdjust="spacing">(CCI)</text>
<text x="325.5" y="14" font-size="14" fill="#000" textLength="43.64" lengthAdjust="spacing">573.86</text>
<text x="374.1" y="14" font-size="14" fill="#0000ff" textLength="35.64" lengthAdjust="spacing">+4.19</text>
<text x="633.75" y="14" font-size="14" fill="#000" textLength="145.4" lengthAdjust="spacing">www.fullermoney.com</text>
<text x="799.6" y="14" font-size="14" fill="#000" textLength="77.8" lengthAdjust="spacing">17 Jan 2012</text>
<text x="22.2" y="40" font-size="14" fill="#0000ff">Weekly</text>
<text x="21.2" y="57" font-size="14" fill="#a31a1c" textLength="57.7" lengthAdjust="spacing">EMA 200</text>
<text x="881.8" y="40" font-size="14" fill="#000">700</text>
<text x="881.8" y="164" font-size="14" fill="#000">600</text>
<text x="881.8" y="288" font-size="14" fill="#000">500</text>
<text x="881.8" y="412" font-size="14" fill="#000">400</text>
<text x="48.2" y="540" font-size="14" fill="#000" text-anchor="middle">Apr</text>
<text x="91.2" y="540" font-size="14" fill="#000" text-anchor="middle">Jul</text>
<text x="133.2" y="540" font-size="14" fill="#000" text-anchor="middle">Oct</text>
<text x="178.2" y="540" font-size="14" fill="#000" text-anchor="middle">2008</text>
<text x="218.2" y="540" font-size="14" fill="#000" text-anchor="middle">Apr</text>
<text x="261.2" y="540" font-size="14" fill="#000" text-anchor="middle">Jul</text>
<text x="304.2" y="540" font-size="14" fill="#000" text-anchor="middle">Oct</text>
<text x="350.2" y="540" font-size="14" fill="#000" text-anchor="middle">2009</text>
<text x="390.2" y="540" font-size="14" fill="#000" text-anchor="middle">Apr</text>
<text x="432.2" y="540" font-size="14" fill="#000" text-anchor="middle">Jul</text>
<text x="475.2" y="540" font-size="14" fill="#000" text-anchor="middle">Oct</text>
<text x="521.2" y="540" font-size="14" fill="#000" text-anchor="middle">2010</text>
<text x="561.2" y="540" font-size="14" fill="#000" text-anchor="middle">Apr</text>
<text x="603.2" y="540" font-size="14" fill="#000" text-anchor="middle">Jul</text>
<text x="647.2" y="540" font-size="14" fill="#000" text-anchor="middle">Oct</text>
<text x="692.2" y="540" font-size="14" fill="#000" text-anchor="middle">2011</text>
<text x="732.2" y="540" font-size="14" fill="#000" text-anchor="middle">Apr</text>
<text x="774.2" y="540" font-size="14" fill="#000" text-anchor="middle">Jul</text>
<text x="818.2" y="540" font-size="14" fill="#000" text-anchor="middle">Oct</text>
<text x="863.2" y="540" font-size="14" fill="#000" text-anchor="middle">2012</text>
<text x="742" y="555" font-size="9" fill="#8a8a8a" textLength="135.2" lengthAdjust="spacing">© 2012 Stockcube Research Ltd</text>
</svg>
</body></html>
